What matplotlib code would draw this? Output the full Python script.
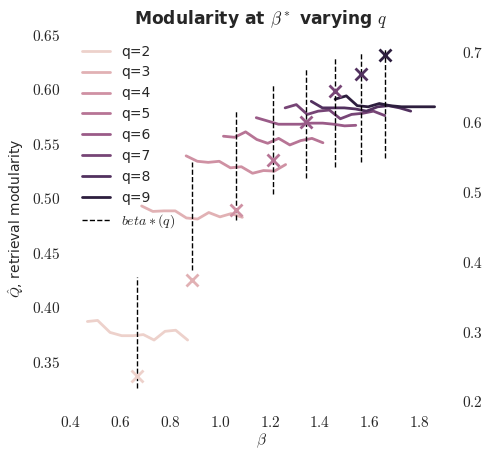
import matplotlib
matplotlib.use("Agg")
import matplotlib.pyplot as plt
import seaborn as sns
from matplotlib.ticker import FuncFormatter, MultipleLocator

q_values = [2, 3, 4, 5, 6, 7, 8, 9]
beta_star = [0.667, 0.885, 1.063, 1.213, 1.345, 1.461, 1.566, 1.662]

betas = {
    2: [0.466, 0.507, 0.557, 0.604, 0.650, 0.691, 0.734, 0.778, 0.821, 0.869],
    3: [0.684, 0.729, 0.774, 0.819, 0.864, 0.909, 0.954, 0.999, 1.044, 1.089],
    4: [0.863, 0.908, 0.952, 0.996, 1.041, 1.085, 1.130, 1.174, 1.218, 1.263],
    5: [1.013, 1.058, 1.102, 1.147, 1.191, 1.235, 1.280, 1.324, 1.369, 1.413],
    6: [1.145, 1.190, 1.234, 1.278, 1.323, 1.367, 1.412, 1.456, 1.500, 1.545],
    7: [1.261, 1.306, 1.350, 1.394, 1.439, 1.483, 1.528, 1.572, 1.616, 1.661],
    8: [1.366, 1.411, 1.455, 1.499, 1.544, 1.588, 1.633, 1.677, 1.721, 1.766],
    9: [1.462, 1.507, 1.551, 1.595, 1.640, 1.684, 1.729, 1.773, 1.817, 1.862],
}
modularity = {
    2: [0.387, 0.388, 0.377, 0.374, 0.374, 0.375, 0.370, 0.378, 0.379, 0.370],
    3: [0.493, 0.488, 0.4885, 0.4885, 0.482, 0.481, 0.487, 0.483, 0.486, 0.4826],
    4: [0.539, 0.534, 0.533, 0.534, 0.528, 0.529, 0.523, 0.5255, 0.525, 0.531],
    5: [0.557, 0.556, 0.561, 0.554, 0.5505, 0.555, 0.549, 0.553, 0.555, 0.551],
    6: [0.574, 0.571, 0.568, 0.568, 0.568, 0.569, 0.569, 0.568, 0.5665, 0.567],
    7: [0.583, 0.586, 0.577, 0.580, 0.581, 0.573, 0.577, 0.578, 0.580, 0.576],
    8: [0.589, 0.583, 0.583, 0.583, 0.582, 0.580, 0.584, 0.585, 0.583, 0.580],
    9: [0.591, 0.594, 0.585, 0.584, 0.587, 0.585, 0.584, 0.584, 0.584, 0.584],
}
vline_lo = [0.326, 0.434, 0.480, 0.504, 0.519, 0.529, 0.533, 0.537]
vline_hi = [0.428, 0.533, 0.580, 0.604, 0.619, 0.629, 0.633, 0.637]
# crosses, right axis
right_vals = [0.237, 0.374, 0.473, 0.545, 0.600, 0.644, 0.668, 0.695]

sns.set_style("white")
plt.rcParams["font.family"] = ["DejaVu Sans"]
plt.rcParams["mathtext.fontset"] = "cm"
plt.rcParams["text.color"] = ".15"
plt.rcParams["axes.labelcolor"] = ".15"
plt.rcParams["xtick.color"] = ".15"
plt.rcParams["ytick.color"] = ".15"

colors = sns.cubehelix_palette(len(q_values))

fig = plt.figure(figsize=(4.82, 4.49), dpi=100)
ax = fig.add_axes([0.1452, 0.098, 0.7926, 0.8307])
ax2 = ax.twinx()

for i, q in enumerate(q_values):
    ax.plot(betas[q], modularity[q], color=colors[i], lw=2, label=f"q={q}")
for i, b in enumerate(beta_star):
    ax.vlines(b, vline_lo[i], vline_hi[i], colors="black", linestyles="--", lw=1,
              label="$beta*(q)$" if i == 0 else None)
    ax2.plot(b, right_vals[i], marker="x", ms=8, mew=2, color=colors[i], ls="none")

ax.set_xlim(0.396, 1.932)
ax.set_ylim(0.3104, 0.6526)
ax2.set_ylim(0.195, 0.728)

ax.xaxis.set_major_locator(MultipleLocator(0.2))
ax.yaxis.set_major_locator(MultipleLocator(0.05))
ax2.yaxis.set_major_locator(MultipleLocator(0.1))
ax.xaxis.set_major_formatter(FuncFormatter(lambda v, p: f"${v:.1f}$"))
ax.yaxis.set_major_formatter(FuncFormatter(lambda v, p: f"${v:.2f}$"))
ax2.yaxis.set_major_formatter(FuncFormatter(lambda v, p: f"${v:.1f}$"))

for a in (ax, ax2):
    for s in a.spines.values():
        s.set_visible(False)
    a.tick_params(length=0, pad=7, labelsize=11)

ax.set_xlabel(r"$\beta$", fontsize=11, labelpad=1)
ax.set_ylabel(r"$\hat{Q}$, retrieval modularity", fontsize=10)
ax.set_title(r"Modularity at $\beta^*$ varying $q$", fontsize=12.3, fontweight="bold")
ax.legend(loc="upper left", frameon=False, fontsize=10)

fig.savefig("out.png", dpi=100)
